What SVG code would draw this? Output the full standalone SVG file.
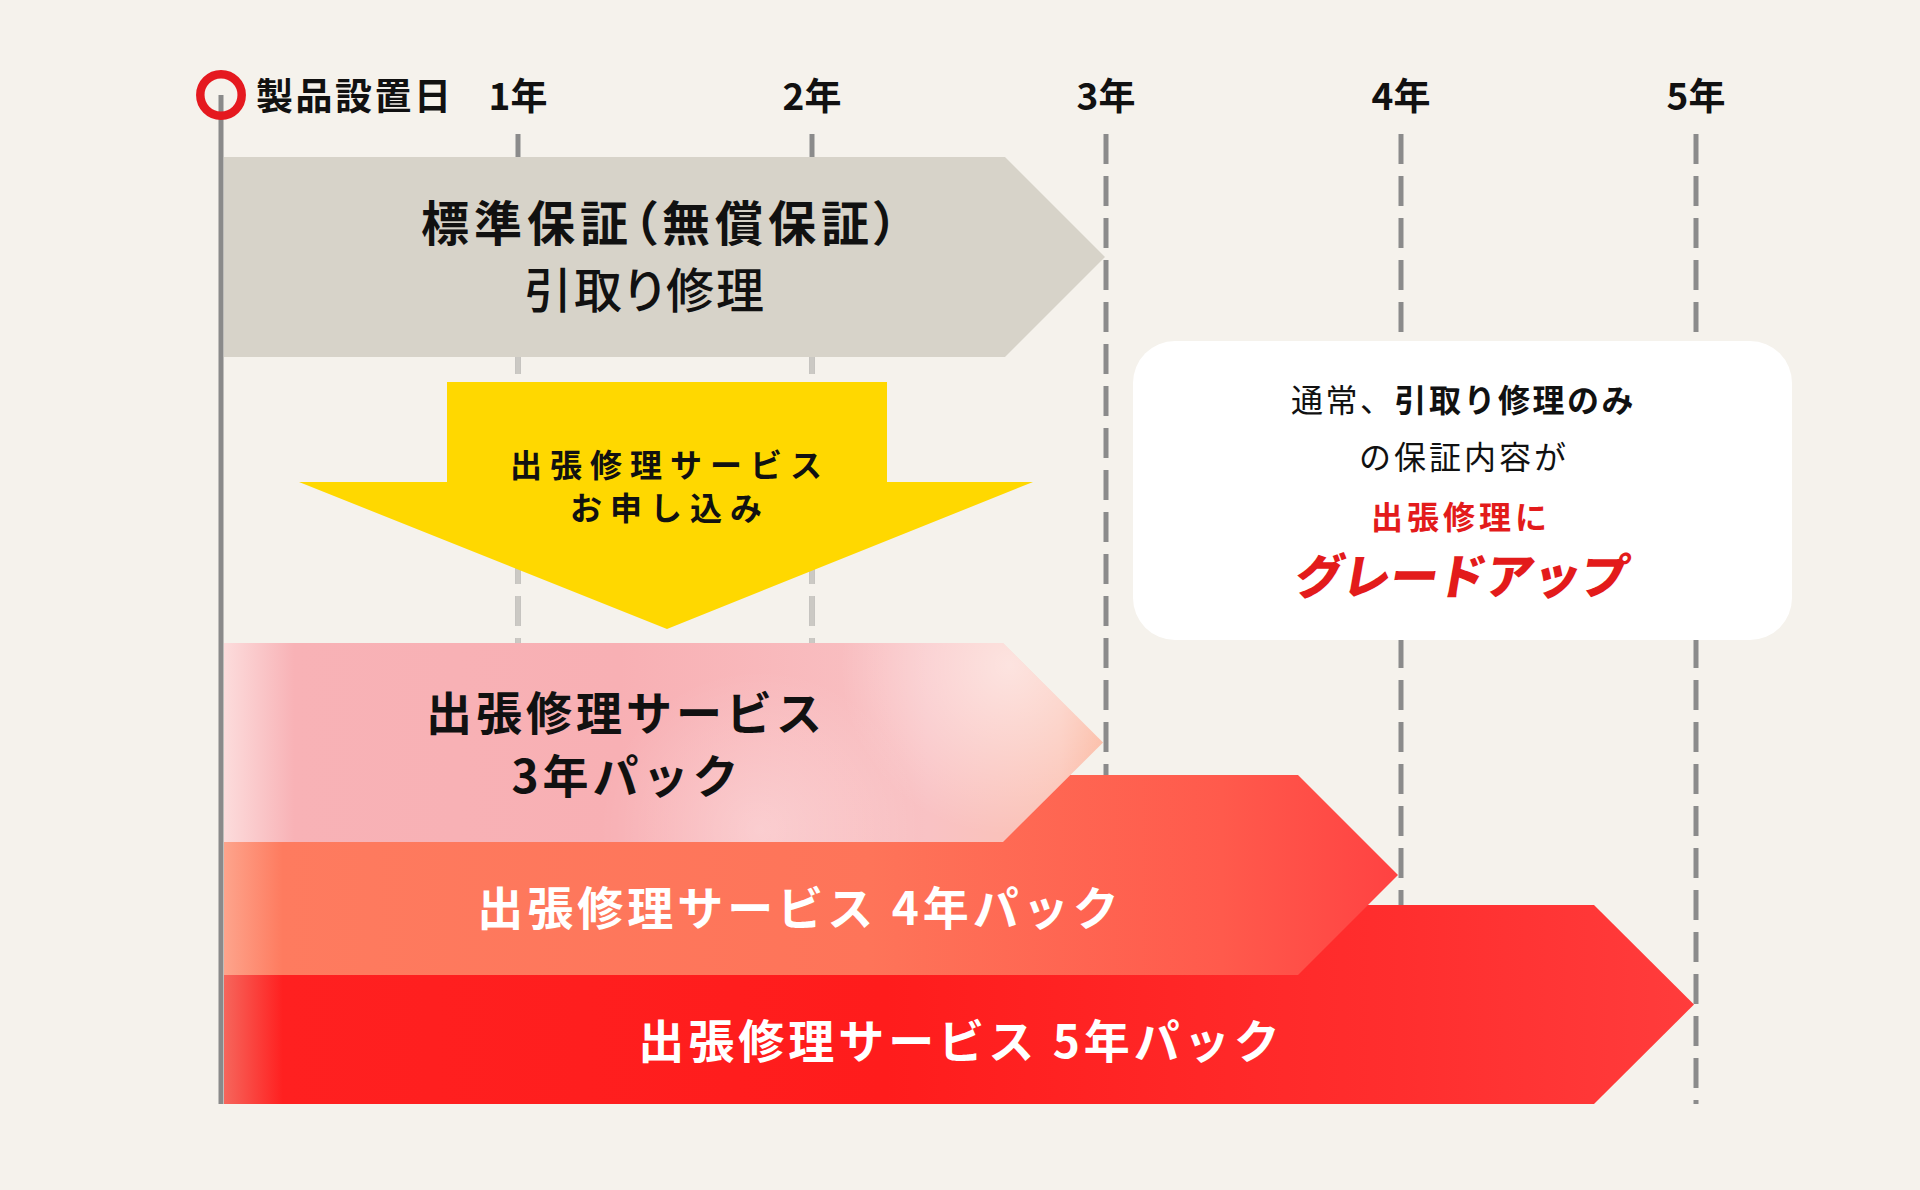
<svg xmlns="http://www.w3.org/2000/svg" width="1920" height="1190" viewBox="0 0 1920 1190">
  <style>
    text { font-family: "Noto Sans CJK JP", "Noto Sans", sans-serif; }
    .yr { font-size: 37px; font-weight: 700; fill: #111; text-anchor: middle; }
    .tick { stroke: #8b8b8b; stroke-width: 5; stroke-dasharray: 30 12; fill: none; }
    .tick-lt { stroke: #cbc9c4; stroke-width: 5; stroke-dasharray: 30 12; fill: none; }
    .big { font-size: 46px; font-weight: 700; letter-spacing: 4px; text-anchor: middle; }
    .box { font-size: 32px; text-anchor: middle; fill: #111; }
    .red { fill: #e31b1b; font-weight: 700; }
  </style>
  <defs>
    <linearGradient id="gPink" gradientUnits="userSpaceOnUse" x1="224" y1="0" x2="1103" y2="0">
      <stop offset="0" stop-color="#fcdcdc"/>
      <stop offset="0.08" stop-color="#f8b2b6"/>
      <stop offset="0.45" stop-color="#f8b0b4"/>
      <stop offset="0.8" stop-color="#f9c2c4"/>
      <stop offset="0.95" stop-color="#fbc2b4"/>
      <stop offset="1" stop-color="#fbb59c"/>
    </linearGradient>
    <radialGradient id="gPinkHi" gradientUnits="userSpaceOnUse" cx="1010" cy="665" r="170">
      <stop offset="0" stop-color="#ffffff" stop-opacity="0.55"/>
      <stop offset="1" stop-color="#ffffff" stop-opacity="0"/>
    </radialGradient>
    <radialGradient id="gPinkHi2" gradientUnits="userSpaceOnUse" cx="760" cy="830" r="160">
      <stop offset="0" stop-color="#ffffff" stop-opacity="0.3"/>
      <stop offset="1" stop-color="#ffffff" stop-opacity="0"/>
    </radialGradient>
    <linearGradient id="g4" gradientUnits="userSpaceOnUse" x1="224" y1="0" x2="1398" y2="0">
      <stop offset="0" stop-color="#fda48c"/>
      <stop offset="0.05" stop-color="#fe7b5f"/>
      <stop offset="0.55" stop-color="#fe7459"/>
      <stop offset="0.85" stop-color="#ff5a4c"/>
      <stop offset="1" stop-color="#ff4242"/>
    </linearGradient>
    <linearGradient id="g5" gradientUnits="userSpaceOnUse" x1="224" y1="0" x2="1694" y2="0">
      <stop offset="0" stop-color="#f6665c"/>
      <stop offset="0.04" stop-color="#ff2020"/>
      <stop offset="0.45" stop-color="#ff1c1c"/>
      <stop offset="0.8" stop-color="#ff2e2e"/>
      <stop offset="1" stop-color="#ff3c3c"/>
    </linearGradient>
  </defs>

  <rect width="1920" height="1190" fill="#f5f2ec"/>

  <g id="connectors">
    <line class="tick" x1="518" y1="134" x2="518" y2="1104"/>
    <line class="tick" x1="812" y1="134" x2="812" y2="1104"/>
    <line class="tick" x1="1106" y1="134" x2="1106" y2="1104"/>
    <line class="tick" x1="1401" y1="134" x2="1401" y2="1104"/>
    <line class="tick" x1="1696" y1="134" x2="1696" y2="1104"/>
    <line class="tick-lt" x1="518" y1="344" x2="518" y2="643"/>
    <line class="tick-lt" x1="812" y1="344" x2="812" y2="643"/>
    <line x1="221" y1="95" x2="221" y2="1104" stroke="#8a8a8a" stroke-width="5"/>
  </g>

  <g id="axis-labels">
    <circle cx="221" cy="95" r="20.7" fill="none" stroke="#e5191f" stroke-width="8.5"/>
    <text x="256" y="110" font-size="37" font-weight="700" letter-spacing="2.5" fill="#111">製品設置日</text>
    <text class="yr" x="518" y="110">1年</text>
    <text class="yr" x="812" y="110">2年</text>
    <text class="yr" x="1106" y="110">3年</text>
    <text class="yr" x="1401" y="110">4年</text>
    <text class="yr" x="1696" y="110">5年</text>
  </g>

  <g id="apply-arrow">
    <path d="M447,382 H887 V482 H1033 L667,629 L299,482 H447 Z" fill="#ffd800"/>
    <text x="670" y="477" font-size="32" font-weight="700" letter-spacing="8" text-anchor="middle" fill="#111">出張修理サービス</text>
    <text x="670" y="520" font-size="32" font-weight="700" letter-spacing="8" text-anchor="middle" fill="#111">お申し込み</text>
  </g>

  <g id="standard">
    <path d="M224,157 H1005 L1105,257 L1005,357 H224 Z" fill="#d7d3c9"/>
    <text x="662" y="241" font-size="48" font-weight="700" letter-spacing="5" text-anchor="middle" fill="#111" style="font-feature-settings:'palt'">標準保証（無償保証）</text>
    <text x="645" y="308" font-size="48" font-weight="500" letter-spacing="2" text-anchor="middle" fill="#111" style="font-feature-settings:'palt'">引取り修理</text>
  </g>

  <g id="note">
    <rect x="1133" y="341" width="659" height="299" rx="42" fill="#ffffff"/>
    <text class="box" x="1463.5" y="412" letter-spacing="2.5"><tspan font-weight="400">通常、</tspan><tspan font-weight="700">引取り修理のみ</tspan></text>
    <text class="box" x="1464" y="469" letter-spacing="3" font-weight="400">の保証内容が</text>
    <text class="box red" x="1461" y="529" letter-spacing="4">出張修理に</text>
    <text class="box red" x="0" y="0" transform="translate(1459,594) skewX(-10)" style="font-size:48px;font-weight:900;letter-spacing:-0.5px">グレードアップ</text>
  </g>

  <g id="pack5">
    <path d="M224,905 H1594 L1694,1004.5 L1594,1104 H224 Z" fill="url(#g5)"/>
    <text class="big" x="961" y="1058" fill="#ffffff">出張修理サービス 5年パック</text>
  </g>

  <g id="pack4">
    <path d="M224,775 H1298 L1398,875 L1298,975 H224 Z" fill="url(#g4)"/>
    <text class="big" x="800" y="925" fill="#ffffff">出張修理サービス 4年パック</text>
  </g>

  <g id="pack3">
    <path d="M224,643 H1003 L1103,742.5 L1003,842 H224 Z" fill="url(#gPink)"/>
    <path d="M224,643 H1003 L1103,742.5 L1003,842 H224 Z" fill="url(#gPinkHi)"/>
    <path d="M224,643 H1003 L1103,742.5 L1003,842 H224 Z" fill="url(#gPinkHi2)"/>
    <text class="big" x="626" y="729.5" fill="#111">出張修理サービス</text>
    <text class="big" x="627" y="793" fill="#111">3年パック</text>
  </g>
</svg>
